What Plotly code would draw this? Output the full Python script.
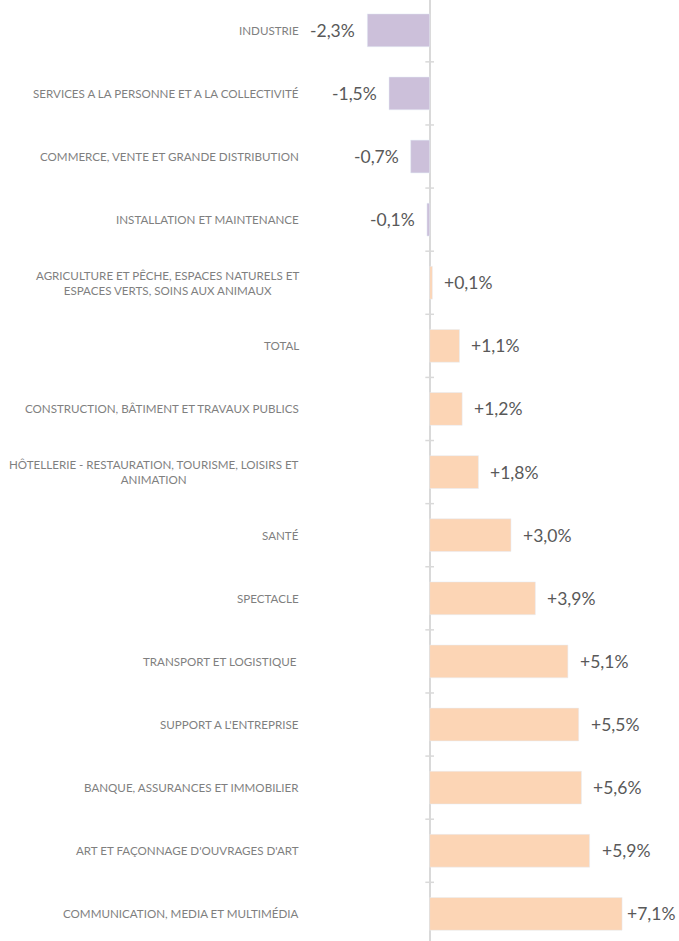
import plotly.graph_objects as go

categories = [
    "INDUSTRIE",
    "SERVICES A LA PERSONNE ET A LA COLLECTIVITÉ",
    "COMMERCE, VENTE ET GRANDE DISTRIBUTION",
    "INSTALLATION ET MAINTENANCE",
    "AGRICULTURE ET PÊCHE, ESPACES NATURELS ET<br>ESPACES VERTS, SOINS AUX ANIMAUX",
    "TOTAL",
    "CONSTRUCTION, BÂTIMENT ET TRAVAUX PUBLICS",
    "HÔTELLERIE - RESTAURATION, TOURISME, LOISIRS ET<br>ANIMATION",
    "SANTÉ",
    "SPECTACLE",
    "TRANSPORT ET LOGISTIQUE ",
    "SUPPORT A L'ENTREPRISE",
    "BANQUE, ASSURANCES ET IMMOBILIER",
    "ART ET FAÇONNAGE D'OUVRAGES D'ART",
    "COMMUNICATION, MEDIA ET MULTIMÉDIA",
]
values = [-2.3, -1.5, -0.7, -0.1, 0.1, 1.1, 1.2, 1.8, 3.0, 3.9, 5.1, 5.5, 5.6, 5.9, 7.1]

NEG_COLOR = "#CCC0DA"
POS_COLOR = "#FCD5B5"
VALUE_COLOR = "#595959"
LABEL_COLOR = "#7F7F7F"
FONT = "Lato, 'Open Sans', sans-serif"

# French style labels: +7,1%
value_text = [f"{v:+.1f}%".replace(".", ",") for v in values]

fig = go.Figure()
fig.add_trace(
    go.Bar(
        x=values,
        y=categories,
        orientation="h",
        marker_color=[NEG_COLOR if v < 0 else POS_COLOR for v in values],
        hoverinfo="skip",
    )
)

# value labels next to the bar ends (the longest bar's label sits tighter so it fits)
vmax = max(values)
for cat, v, txt in zip(categories, values, value_text):
    if v < 0:
        anchor, shift = "right", -10
    else:
        anchor, shift = "left", (3 if v == vmax else 10)
    fig.add_annotation(
        x=v, y=cat, xref="x", yref="y",
        text=txt, showarrow=False,
        xanchor=anchor, xshift=shift,
        font=dict(size=17.5, color=VALUE_COLOR, family=FONT),
    )

# category labels, centred multi-line, right-aligned to the left of the plot
for cat in categories:
    fig.add_annotation(
        x=0, xref="paper", y=cat, yref="y",
        text=cat, showarrow=False,
        xanchor="right", align="center", xshift=-4,
        font=dict(size=11.6, color=LABEL_COLOR, family=FONT),
    )

# small tick marks on the zero line between categories
for i in range(len(categories) - 1):
    fig.add_shape(
        type="line", xref="x", yref="y",
        x0=-0.16, x1=0.16, y0=i + 0.5, y1=i + 0.5,
        line=dict(color="#D9D9D9", width=1.5),
    )

fig.update_layout(
    width=679,
    height=941,
    margin=dict(l=305, r=0, t=0, b=0),
    plot_bgcolor="white",
    paper_bgcolor="white",
    showlegend=False,
    bargap=0.48,
    font=dict(family=FONT, color=VALUE_COLOR),
)
fig.update_xaxes(
    range=[-4.6, 9.2],
    showgrid=False,
    showticklabels=False,
    zeroline=True,
    zerolinecolor="#D9D9D9",
    zerolinewidth=1.5,
    fixedrange=True,
)
fig.update_yaxes(
    range=[14.43, -0.48],
    showgrid=False,
    showticklabels=False,
    ticks="",
    fixedrange=True,
)

fig.write_html(
    "out.html",
    config={"displayModeBar": False},
    post_script="document.body.style.margin = '0';",
)
